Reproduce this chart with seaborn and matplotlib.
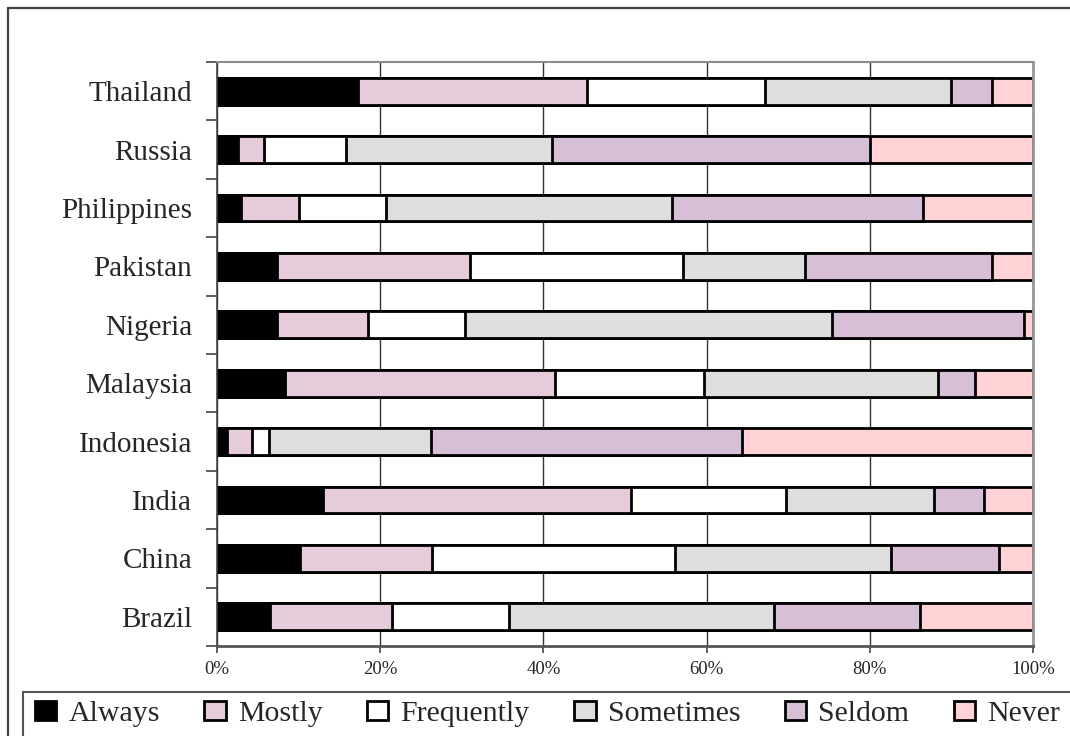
import numpy as np
import pandas as pd
import matplotlib
matplotlib.use("Agg")
import matplotlib.pyplot as plt
from matplotlib.patches import Rectangle
from matplotlib.ticker import PercentFormatter, FixedLocator
import seaborn as sns

# Countries, listed top to bottom
countries = ["Thailand", "Russia", "Philippines", "Pakistan", "Nigeria",
             "Malaysia", "Indonesia", "India", "China", "Brazil"]

# Share of answers (%) per response category
always = [17.3, 2.6, 3.0, 7.4, 7.4, 8.3, 1.2, 13.0, 10.2, 6.5]
mostly = [28.0, 3.2, 7.1, 23.6, 11.1, 33.1, 3.1, 37.7, 16.2, 15.0]
frequently = [21.9, 10.0, 10.6, 26.1, 11.9, 18.3, 2.1, 19.0, 29.7, 14.3]
sometimes = [22.8, 25.3, 35.1, 15.0, 45.0, 28.6, 19.8, 18.2, 26.5, 32.5]
seldom = [5.0, 38.9, 30.7, 22.9, 23.5, 4.6, 38.1, 6.1, 13.2, 17.8]
never = [5.0, 20.0, 13.5, 5.0, 1.1, 7.1, 35.7, 6.0, 4.2, 13.9]

categories = ["Always", "Mostly", "Frequently", "Sometimes", "Seldom", "Never"]
colors = ["#000000", "#E6CCDA", "#FFFFFF", "#DEDEDE", "#D8BFD8", "#FFD2D5"]

sns.set_style("white")
plt.rcParams["font.family"] = ["Liberation Serif", "DejaVu Serif"]

df = pd.DataFrame({"country": countries, "Always": always, "Mostly": mostly,
                   "Frequently": frequently, "Sometimes": sometimes,
                   "Seldom": seldom, "Never": never})
cum = df[categories].cumsum(axis=1)

fig = plt.figure(figsize=(10.70, 7.36), dpi=100)
W, H = 1070, 736
ax = fig.add_axes([217 / W, 1 - 646 / H, (1033 - 217) / W, (646 - 62) / H])

# Stacked bars: draw cumulative totals from the widest down
for name, col in reversed(list(zip(categories, colors))):
    sns.barplot(x=cum[name].values, y=df["country"], orient="h", color=col,
                saturation=1, edgecolor="black", linewidth=2.0, width=0.46,
                errorbar=None, label=name, ax=ax, zorder=3)

if ax.get_legend() is not None:
    ax.get_legend().remove()

ax.set_xlim(0, 100)
ax.set_ylim(9.5, -0.5)
ax.set_xlabel("")
ax.set_ylabel("")
ax.xaxis.set_major_locator(FixedLocator([0, 20, 40, 60, 80, 100]))
ax.xaxis.set_major_formatter(PercentFormatter(decimals=0))
ax.grid(axis="x", color="#333333", linewidth=1.0)
ax.grid(axis="y", visible=False)
ax.set_axisbelow(True)

ax.tick_params(axis="x", which="major", bottom=True, length=5, width=1.2,
               color="#444444", labelsize=13.5, pad=6)
ax.tick_params(axis="y", which="major", left=False, length=0, labelsize=21, pad=18)
ax.yaxis.set_minor_locator(FixedLocator(np.arange(-0.5, 10, 1.0)))
ax.tick_params(axis="y", which="minor", left=True, length=8, width=1.2,
               color="#444444")

ax.spines["top"].set_color("#8c8c8c")
ax.spines["top"].set_linewidth(1.5)
ax.spines["right"].set_color("#999999")
ax.spines["right"].set_linewidth(2)
ax.spines["bottom"].set_color("#555555")
ax.spines["bottom"].set_linewidth(2)
ax.spines["left"].set_color("#444444")
ax.spines["left"].set_linewidth(1.2)
for s in ax.spines.values():
    s.set_visible(True)
    s.set_zorder(5)

# Legend in series order, inside a box that runs past the right edge
handles, labels = ax.get_legend_handles_labels()
lookup = dict(zip(labels, handles))
leg = fig.legend([lookup[c] for c in categories], categories, ncol=6,
                 loc="upper left", bbox_to_anchor=(25 / W, 1 - 691 / H),
                 borderaxespad=0, frameon=False, fontsize=21.5,
                 handlelength=0.72, handleheight=0.58, handletextpad=0.4,
                 columnspacing=1.49, borderpad=0.33)
fig.add_artist(Rectangle((23 / W, -0.2), 1.2, 0.2 + 1 - 692 / H,
                         transform=fig.transFigure, fill=False,
                         edgecolor="#555555", linewidth=1.5, clip_on=False))

# Outer chart border
fig.add_artist(Rectangle((8 / W, -0.2), 1.2, 1.2 - 8 / H, transform=fig.transFigure,
                         fill=False, edgecolor="#404040", linewidth=1.6,
                         clip_on=False))

fig.savefig("out.png", dpi=100)
